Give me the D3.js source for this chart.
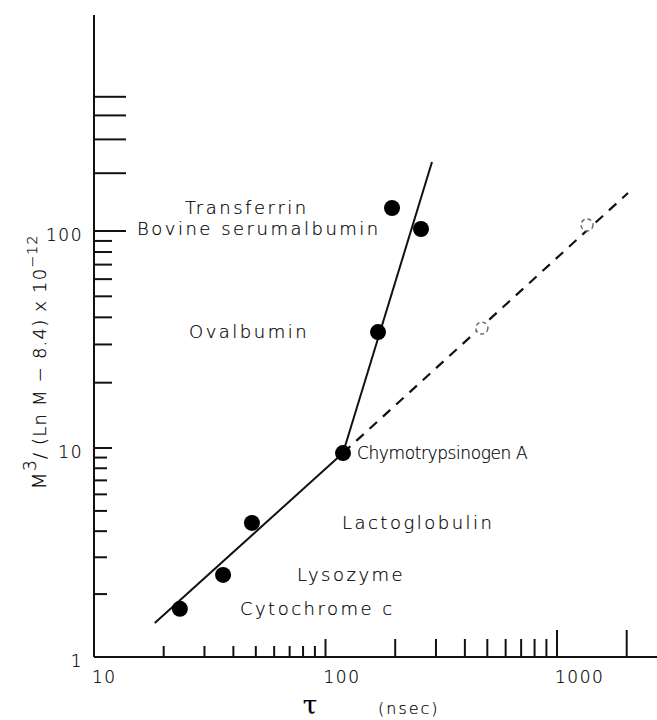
<!DOCTYPE html>
<html>
<head>
<meta charset="utf-8">
<script src="https://cdn.jsdelivr.net/npm/d3@7"></script>
<style>
  body { margin: 0; background: #fff; }
  svg text { font-family: "DejaVu Sans", sans-serif; font-weight: 200; fill: #000; stroke: #000; stroke-width: 0.2; }
</style>
</head>
<body>
<svg width="657" height="720"></svg>
<script>
// Rotational correlation time vs M^3/(ln M - 8.4), log-log

// proteins
var proteins = ["Cytochrome c", "Lysozyme", "Lactoglobulin", "Chymotrypsinogen A",
                "Ovalbumin", "Transferrin", "Bovine serumalbumin"];
var tau = [23.5, 36.1, 48.1, 119, 168.6, 193.8, 258.5];        // nsec
var ratio = [1.70, 2.47, 4.38, 9.46, 34.2, 131.8, 102.4];      // x 10^-12

// fitted lines (end points)
var lowFit = [[18.3, 1.455], [119, 9.46]];
var highFit = [[119, 9.46], [288.4, 228.7]];
var extrapolated = [[119, 9.46], [2026, 157.7]];

// faint open markers on the dashed line
var openTau = [474, 1348];
var openRatio = [35.7, 107.5];

// axis ticks
var xTicks = [20, 30, 40, 50, 60, 70, 80, 90, 100, 200, 300, 400, 500, 600, 700, 800, 900, 1000, 2000];
var xTickLabels = [10, 100, 1000];
var yTicks = [2, 3, 4, 5, 6, 7, 8, 9, 10, 20, 30, 40, 50, 60, 70, 80, 90, 100, 200, 300, 400, 500];
var yTickLabels = [1, 10, 100];

// label placement relative to each point (px)
var labelDx = [60, 74, 90, 14, -189, -207, -284];

var svg = d3.select("svg");

var x = d3.scaleLog().domain([10, 1000]).range([94, 557]);
// the drawn paper scale is a bit uneven between decades
var y = d3.scaleLog().domain([1, 10, 100, 1000]).range([657, 448, 231, 39]);

// axes lines
svg.append("line").attr("x1", 94).attr("x2", 94).attr("y1", 15).attr("y2", y(1))
  .attr("stroke", "#111").attr("stroke-width", 2);
svg.append("line").attr("x1", 94).attr("x2", 657).attr("y1", y(1)).attr("y2", y(1))
  .attr("stroke", "#111").attr("stroke-width", 2);

// x ticks (drawn upward, into the plot)
svg.append("g").selectAll("line")
  .data(xTicks)
  .enter().append("line")
  .attr("x1", function(d) { return x(d); })
  .attr("x2", function(d) { return x(d); })
  .attr("y1", y(1))
  .attr("y2", function(d) { return y(1) - (d >= 1000 ? 27 : d >= 100 ? 18 : 11); })
  .attr("stroke", "#111").attr("stroke-width", 2);

svg.append("g").selectAll("text")
  .data(xTickLabels)
  .enter().append("text")
  .attr("x", function(d) { return x(d) - 2; })
  .attr("y", 683)
  .attr("font-size", 17)
  .attr("letter-spacing", 1.5)
  .text(function(d) { return d; });

// y ticks (drawn to the right)
svg.append("g").selectAll("line")
  .data(yTicks)
  .enter().append("line")
  .attr("x1", 94)
  .attr("x2", function(d) { return 94 + (d >= 100 ? 32 : d >= 10 ? 18 : 13); })
  .attr("y1", function(d) { return y(d); })
  .attr("y2", function(d) { return y(d); })
  .attr("stroke", "#111").attr("stroke-width", 2);

svg.append("g").selectAll("text")
  .data(yTickLabels)
  .enter().append("text")
  .attr("x", 83)
  .attr("y", function(d) { return y(d) + 4; })
  .attr("dy", "0.35em")
  .attr("text-anchor", "end")
  .attr("font-size", 17)
  .attr("letter-spacing", 1.5)
  .text(function(d) { return d; });

// fit lines
var line = d3.line()
  .x(function(d) { return x(d[0]); })
  .y(function(d) { return y(d[1]); });

svg.append("path").attr("d", line(lowFit))
  .attr("fill", "none").attr("stroke", "#111").attr("stroke-width", 2);
svg.append("path").attr("d", line(highFit))
  .attr("fill", "none").attr("stroke", "#111").attr("stroke-width", 2);
svg.append("path").attr("d", line(extrapolated))
  .attr("fill", "none").attr("stroke", "#111").attr("stroke-width", 2.2)
  .attr("stroke-dasharray", "10,8");

// faint open markers
svg.append("g").selectAll("circle")
  .data(openTau)
  .enter().append("circle")
  .attr("cx", function(d) { return x(d); })
  .attr("cy", function(d, i) { return y(openRatio[i]); })
  .attr("r", 6)
  .attr("fill", "#fff")
  .attr("stroke", "#666")
  .attr("stroke-width", 1.4)
  .attr("stroke-dasharray", "4,3");

// data points
svg.append("g").selectAll("circle")
  .data(proteins)
  .enter().append("circle")
  .attr("cx", function(d, i) { return x(tau[i]); })
  .attr("cy", function(d, i) { return y(ratio[i]); })
  .attr("r", 8)
  .attr("fill", "#000");

// protein names
svg.append("g").selectAll("text")
  .data(proteins)
  .enter().append("text")
  .attr("x", function(d, i) { return x(tau[i]) + labelDx[i]; })
  .attr("y", function(d, i) { return y(ratio[i]); })
  .attr("dy", "0.35em")
  .attr("font-size", function(d) { return d.length > 16 && d[0] == "C" ? 17 : 18; })
  .attr("letter-spacing", function(d) { return d.length > 16 && d[0] == "C" ? -0.4 : 2.5; })
  .text(function(d) { return d; });

// y axis title
var yTitle = svg.append("text")
  .attr("transform", "translate(46,362) rotate(-90)")
  .attr("text-anchor", "middle")
  .attr("font-size", 18)
  .attr("letter-spacing", 1.2);
yTitle.append("tspan").attr("font-size", 20).text("M");
yTitle.append("tspan").attr("dy", -10).attr("font-size", 17).text("3");
yTitle.append("tspan").attr("dy", 10).text("/ (Ln M \u2212 8.4) x 10");
yTitle.append("tspan").attr("dy", -9).attr("font-size", 14).text("\u221212");

// x axis title
svg.append("text")
  .attr("x", 310).attr("y", 714)
  .attr("text-anchor", "middle")
  .attr("font-size", 26)
  .style("font-family", "'DejaVu Serif', serif")
  .text("\u03c4");
svg.append("text")
  .attr("x", 378).attr("y", 714)
  .attr("font-size", 16)
  .attr("letter-spacing", 2)
  .text("(nsec)");
</script>
</body>
</html>
